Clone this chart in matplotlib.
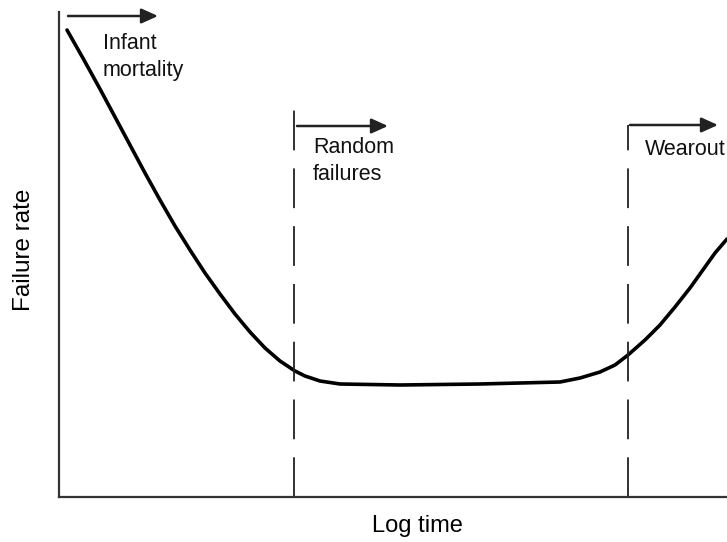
import numpy as np
import matplotlib.pyplot as plt

plt.rcParams['font.family'] = ['Liberation Sans', 'DejaVu Sans']

# -------------------------------------------------
# Data (log time vs. failure rate, arbitrary units)
# -------------------------------------------------
log_time = [8, 25, 41, 56, 71, 86, 101, 116, 131, 146, 161, 176, 191, 206,
            221, 236, 246, 261, 281, 341, 421, 501, 521, 541, 556, 569,
            586, 601, 616, 631, 646, 656, 668]
failure_rate = [467, 437, 408, 380, 352, 324, 297, 271, 247, 224, 203, 183,
                165, 149, 136, 126, 121, 116, 113, 112, 113, 115, 119, 125,
                132, 142, 157, 172, 190, 209, 230, 244, 258]

phase_starts = [235, 569]          # dashed boundaries
phase_labels = ["Infant\nmortality", "Random\nfailures", "Wearout"]
arrow_x = [(9, 99), (238, 329), (571, 659)]
arrow_y = [481, 371, 372]
label_pos = [(44, 421), (254, 317), (586, 342)]   # baseline of last line
dash_top = [394, 372]

# -------------------------------------------------
# Plot
# -------------------------------------------------
fig = plt.figure(figsize=(7.27, 5.42), dpi=100)
ax = fig.add_axes([59 / 727, 45 / 542, 668 / 727, 485 / 542])

ax.plot(log_time, failure_rate, color='black', lw=2.6,
        solid_capstyle='round', solid_joinstyle='round')

for xs, top in zip(phase_starts, dash_top):
    ax.plot([xs, xs], [0, top], color='#222222', lw=1.3, dashes=(22, 10))

for (x0, x1), y in zip(arrow_x, arrow_y):
    ax.annotate("", xy=(x1, y), xytext=(x0, y),
                arrowprops=dict(arrowstyle='-|>,head_length=1.0,head_width=0.45',
                                color='#222222', lw=1.8, shrinkA=0, shrinkB=0))

for (tx, ty), lab in zip(label_pos, phase_labels):
    ax.text(tx, ty, lab, fontsize=15.5, ha='left', va='baseline',
            linespacing=1.4, color='#111111')

ax.set_xlim(0, 668)
ax.set_ylim(0, 485)
ax.set_xticks([])
ax.set_yticks([])
for side in ['top', 'right']:
    ax.spines[side].set_visible(False)
for side in ['left', 'bottom']:
    ax.spines[side].set_linewidth(1.6)
    ax.spines[side].set_color('#333333')

ax.set_xlabel("Log time", fontsize=17)
ax.set_ylabel("Failure rate", fontsize=17.5)
ax.xaxis.set_label_coords(0.536, -0.038)
ax.yaxis.set_label_coords(-0.036, 0.509)

fig.savefig("out.png", dpi=100)
